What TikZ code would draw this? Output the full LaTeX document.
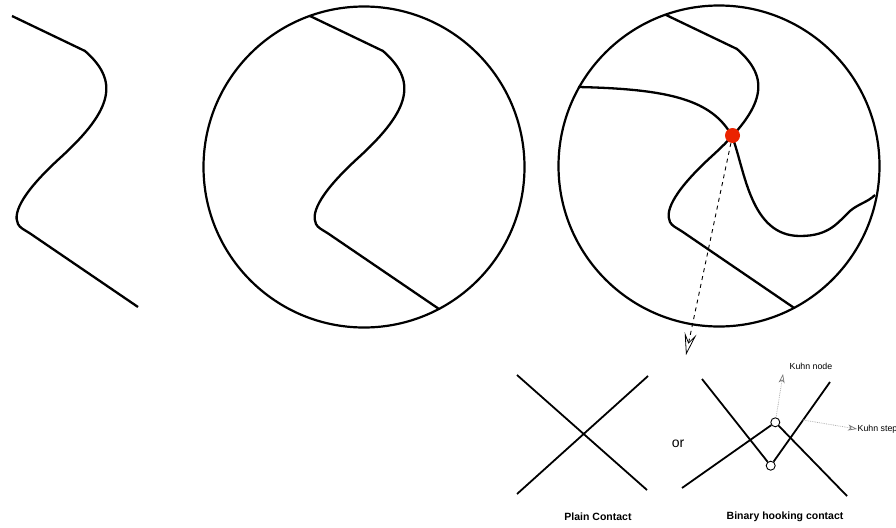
\documentclass[tikz,border=0pt]{standalone}
\usepackage{fontspec}
\setmainfont{Liberation Sans}
\usetikzlibrary{arrows.meta}
\definecolor{dotred}{RGB}{235,35,0}
\definecolor{kgray}{RGB}{175,175,175}
\definecolor{kheadgray}{RGB}{120,120,120}
\begin{document}
\begin{tikzpicture}[x=1pt,y=-1pt,
  thickcurve/.style={line width=2.3pt, line join=round},
  ring/.style={circle, draw, line width=2.2pt, minimum size=321pt, inner sep=0pt},
  strand/.style={line width=1.8pt},
  knot/.style={circle, draw, fill=white, line width=0.9pt, minimum size=9pt, inner sep=0pt},
  kuhn/.style={draw=kgray, densely dotted, line width=0.8pt,
     -{Stealth[open, length=9pt, width=6pt, inset=2.5pt, line width=0.7pt, color=kheadgray]}},
  lbl/.style={font=\fontsize{10.5}{12}\selectfont\bfseries, inner sep=0pt},
  smalllbl/.style={font=\fontsize{8.8}{10}\selectfont, inner sep=0pt},
]
\useasboundingbox (0,0) rectangle (896,527);

% left curve
\draw[thickcurve] (12,16) -- (85,51) .. controls (118,80) and (115,108) .. (60,158)
   .. controls (25,190) and (12,212) .. (18,224) .. controls (20,228) and (24,229.5) .. (30,233.4) -- (138,307);

% second circle with curve
\begin{scope}
  \clip (364,167) circle[radius=160.5];
  \draw[thickcurve, shift={(298,0)}] (3,11.7) -- (85,51) .. controls (118,80) and (115,108) .. (60,158)
     .. controls (25,190) and (12,212) .. (18,224) .. controls (20,228) and (24,229.5) .. (30,233.4) -- (146.3,312.6);
\end{scope}
\node[ring] (c2) at (364,167) {};

% third circle with curves
\begin{scope}
  \clip (719,166) circle[radius=160.5];
  \draw[thickcurve, shift={(652,-2)}] (3,11.7) -- (85,51) .. controls (118,80) and (115,108) .. (60,158)
     .. controls (25,190) and (12,212) .. (18,224) .. controls (20,228) and (24,229.5) .. (30,233.4) -- (150,315.3);
\end{scope}
\draw[thickcurve] (578,87) .. controls (670,89) and (712,100) .. (732,136)
   .. controls (745,170) and (750,236) .. (800,236)
   .. controls (830,236) and (838,222) .. (850,211)
   .. controls (858,204) and (868,202) .. (875,195);
\node[ring] (c3) at (719,166) {};
\node[circle, fill=dotred, minimum size=15pt, inner sep=0pt] (reddot) at (732.5,135.5) {};

% dashed arrow
\coordinate (tip1) at (686,355);
\draw[line width=0.9pt, dash pattern=on 4pt off 4pt,
  -{Stealth[open, length=22pt, width=12pt, inset=9pt, line width=0.8pt]}] (reddot) -- (tip1);

% plain contact
\coordinate (p1) at (517,375);
\coordinate (p2) at (647,490);
\coordinate (p3) at (517,494);
\coordinate (p4) at (648,376);
\draw[strand] (p1) -- (p2);
\draw[strand] (p3) -- (p4);
\node[lbl] (plain) at (598,517) {Plain Contact};

\node[font=\fontsize{14}{16}\selectfont, inner sep=0pt] (or) at (678,444) {or};

% binary hooking contact
\node[knot] (kl) at (770.7,465.7) {};
\node[knot] (ku) at (775.3,422.3) {};
\coordinate (h1) at (702,379);
\coordinate (h2) at (830,382);
\coordinate (h3) at (682,488);
\coordinate (h4) at (847,496);
\draw[strand] (h1) -- (kl) -- (h2);
\draw[strand] (h3) -- (ku) -- (h4);
\node[lbl] (binary) at (785,517) {Binary hooking contact};

% Kuhn annotations
\coordinate (kn) at (783,374);
\draw[kuhn] (ku) -- (kn);
\node[smalllbl] (kntext) at (811,366.5) {Kuhn node};
\coordinate (ks0) at (803,420);
\coordinate (ks1) at (857,429);
\draw[kuhn] (ks0) -- (ks1);
\node[smalllbl, anchor=west] (kstext) at (857.5,429.5) {Kuhn step};
\end{tikzpicture}
\end{document}
